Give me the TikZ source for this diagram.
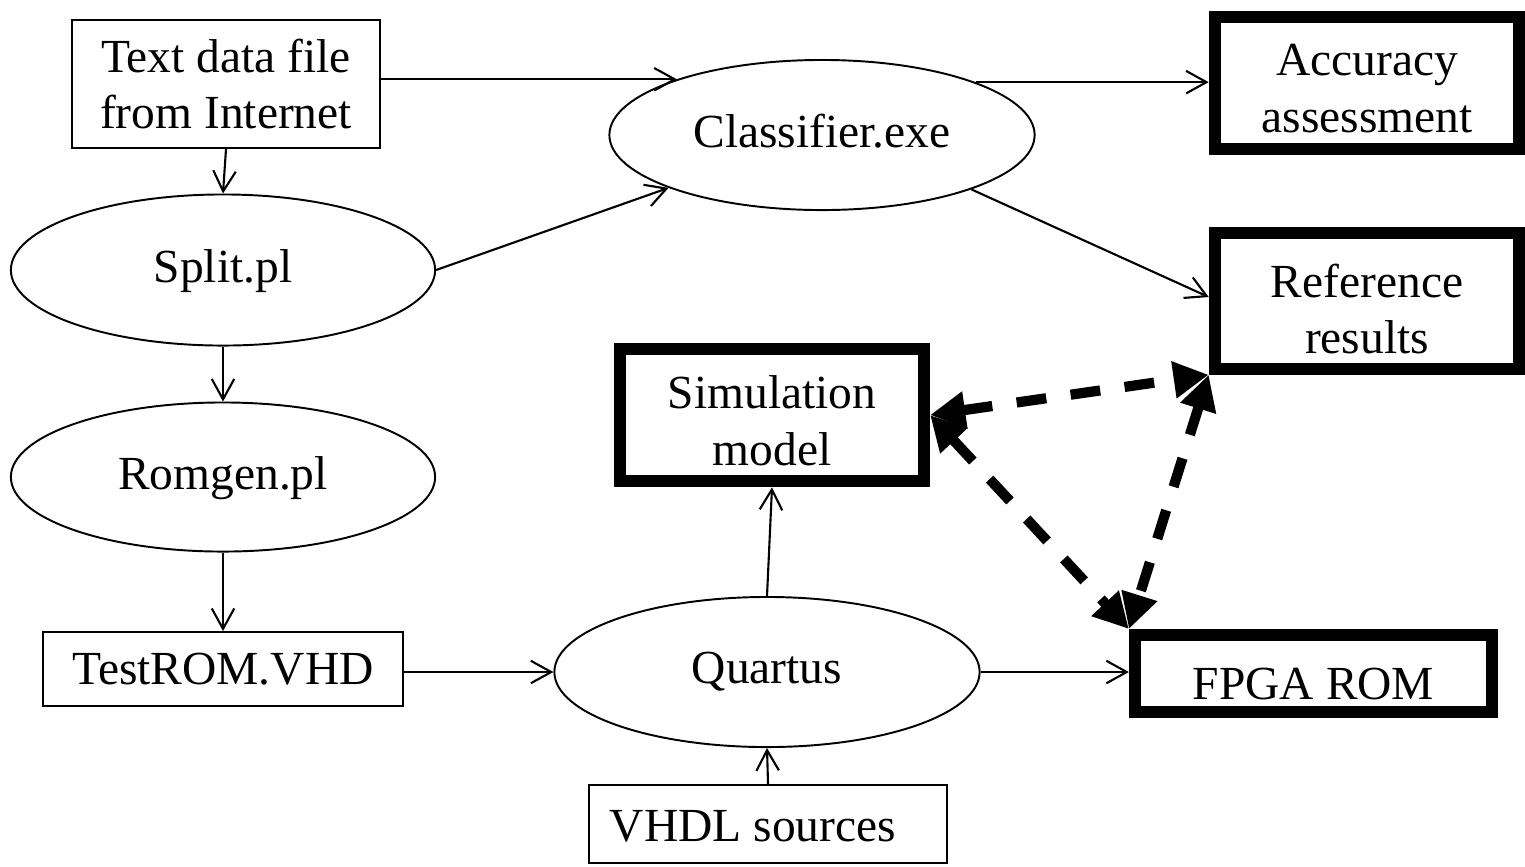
\documentclass[tikz,border=0pt]{standalone}
\usepackage{fontspec}
\setmainfont{Liberation Serif}
\usetikzlibrary{shapes.geometric,arrows.meta}
\begin{document}
\begin{tikzpicture}[x=0.01cm,y=-0.01cm,
  every node/.style={font=\fontsize{13.5}{16.2}\selectfont},
  box/.style={draw, line width=0.55pt, rectangle, inner sep=0pt, align=center},
  thickbox/.style={draw, line width=3.4pt, rectangle, inner sep=0pt, align=center},
  oval/.style={draw, line width=0.55pt, ellipse, inner sep=0pt, text depth=0.22em},
  lbl/.style={align=center, inner sep=0pt},
  arr/.style={line width=0.6pt, -{Straight Barb[length=5.8pt,width=6.4pt]}},
  dbl/.style={line width=2.9pt, dash pattern=on 8.5pt off 7pt,
    {Triangle[length=10pt,width=10pt]}-{Triangle[length=10pt,width=10pt]}}]
\useasboundingbox (0,0) rectangle (1525,866);

% processing chain on the left
\node[box, minimum width=3.08cm, minimum height=1.28cm] (text) at (226,84) {Text data file\\from Internet};
\node[oval, minimum width=4.24cm, minimum height=1.51cm] (split) at (223,270) {Split.pl};
\node[oval, minimum width=4.24cm, minimum height=1.49cm] (romgen) at (223,477) {Romgen.pl};
\node[box, minimum width=3.60cm, minimum height=0.74cm] (testrom) at (223,669) {TestROM.VHD};

% classifier and its results
\node[oval, minimum width=4.25cm, minimum height=1.50cm] (classifier) at (822,135) {Classifier.exe};
\node[thickbox, minimum width=3.045cm, minimum height=1.32cm] (accuracy) at (1367,83) {};
\node[lbl] at ([yshift=-0.06cm]accuracy.center) {Accuracy\\assessment};
\node[thickbox, minimum width=3.045cm, minimum height=1.355cm] (reference) at (1367,301) {};
\node[lbl] at ([yshift=-0.08cm]reference.center) {Reference\\results};

% hardware flow
\node[thickbox, minimum width=3.04cm, minimum height=1.325cm] (sim) at (772,415) {};
\node[lbl] at ([yshift=-0.06cm]sim.center) {Simulation\\model};
\node[oval, minimum width=4.25cm, minimum height=1.50cm] (quartus) at (767,672) {Quartus};
\node[thickbox, minimum width=3.57cm, minimum height=0.77cm] (fpga) at (1313.5,673.5) {};
\node[lbl] at ([yshift=-0.1cm]fpga.center) {FPGA ROM};
\node[box, minimum width=3.58cm, minimum height=0.78cm] (vhdl) at (768,824) {};
\node[lbl] at ([xshift=-0.15cm,yshift=-0.02cm]vhdl.center) {VHDL sources};

% data flow
\draw[arr] (text.east |- classifier.159) -- (classifier.159);
\draw[arr] (classifier.19) -- (classifier.19 -| accuracy.west);
\draw[arr] (split.east) -- (classifier.199.5);
\draw[arr] (classifier.340.5) -- ([yshift=0.04cm]reference.west);
\draw[arr] (text.south) -- (split.north);
\draw[arr] (split.south) -- (romgen.north);
\draw[arr] (romgen.south) -- (testrom.north);
\draw[arr] (testrom.east |- quartus.west) -- (quartus.west);
\draw[arr] (quartus.east) -- (quartus.east -| fpga.west);
\draw[arr] (vhdl.north) -- (quartus.south);
\draw[arr] (quartus.north) -- (sim.south);

% result comparisons
\draw[dbl] (sim.east) -- (reference.south west);
\draw[dbl] (sim.east) -- (fpga.north west);
\draw[dbl] (reference.south west) -- (fpga.north west);
\end{tikzpicture}
\end{document}
